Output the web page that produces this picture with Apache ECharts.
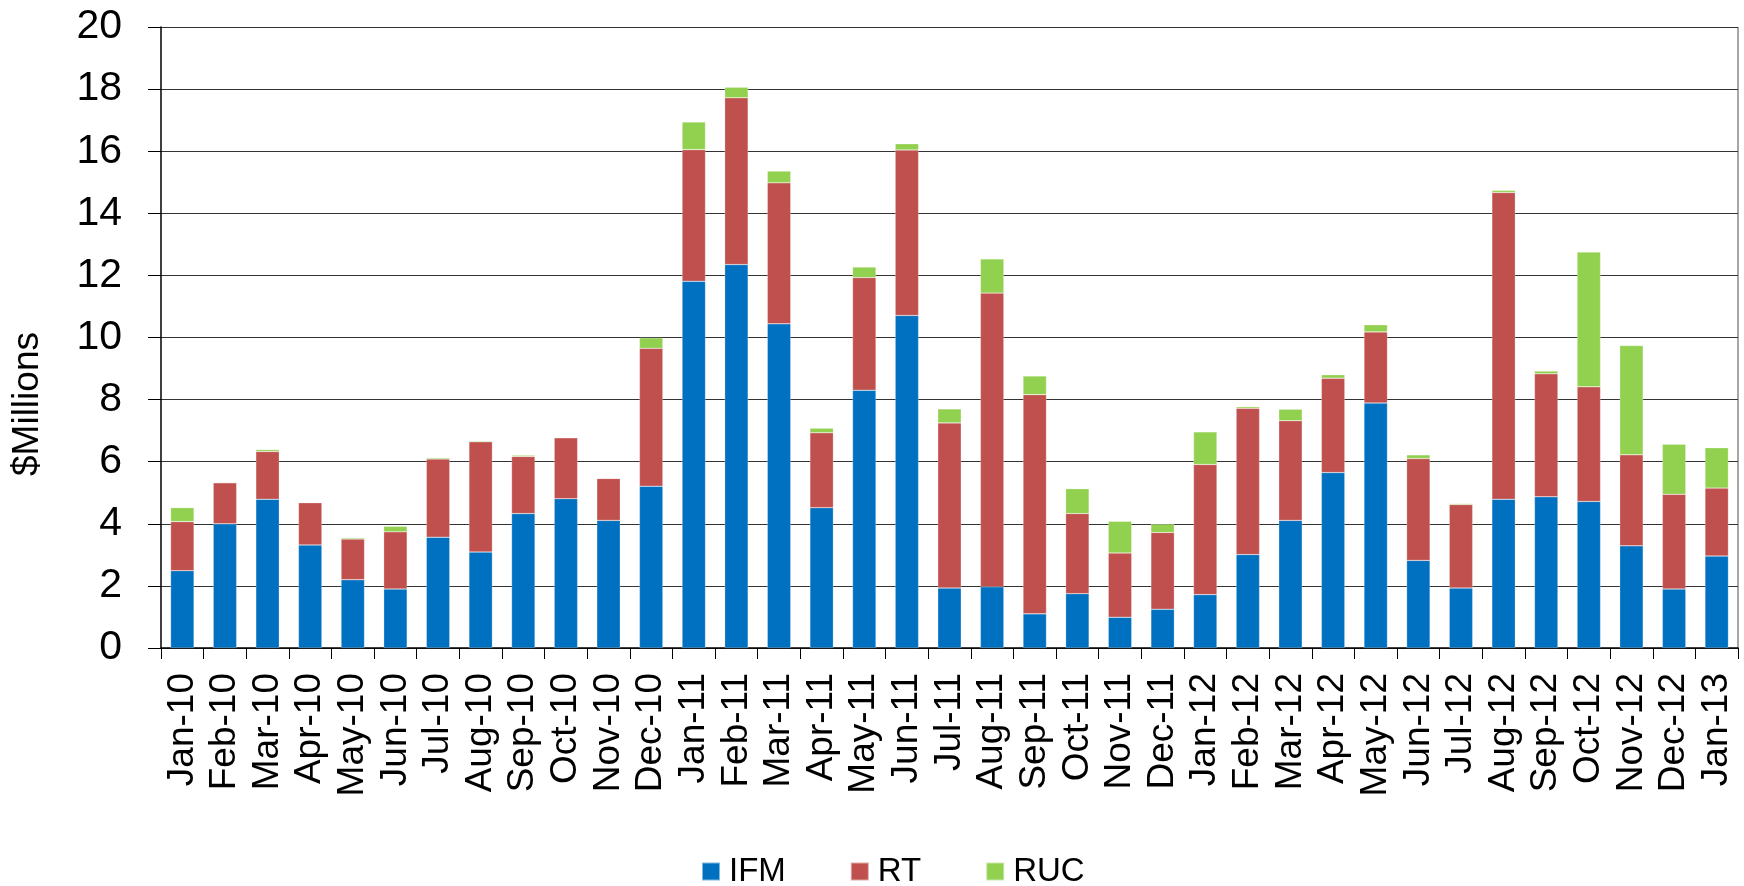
<!DOCTYPE html>
<html>
<head>
<meta charset="utf-8">
<script src="https://cdn.jsdelivr.net/npm/echarts@6/dist/echarts.min.js"></script>
<style>
  html, body { margin: 0; padding: 0; background: #fff; }
  #chart { width: 1744px; height: 886px; }
</style>
</head>
<body>
<div id="chart"></div>
<script>
const months = ['Jan-10','Feb-10','Mar-10','Apr-10','May-10','Jun-10','Jul-10','Aug-10','Sep-10','Oct-10','Nov-10','Dec-10',
  'Jan-11','Feb-11','Mar-11','Apr-11','May-11','Jun-11','Jul-11','Aug-11','Sep-11','Oct-11','Nov-11','Dec-11',
  'Jan-12','Feb-12','Mar-12','Apr-12','May-12','Jun-12','Jul-12','Aug-12','Sep-12','Oct-12','Nov-12','Dec-12',
  'Jan-13'];

// $Millions, stacked segments
const ifm = [2.49, 4.00, 4.79, 3.32, 2.20, 1.90, 3.57, 3.09, 4.33, 4.81, 4.11, 5.21,
  11.81, 12.35, 10.44, 4.52, 8.30, 10.71, 1.93, 1.97, 1.10, 1.75, 0.99, 1.25,
  1.72, 3.01, 4.11, 5.65, 7.89, 2.82, 1.93, 4.79, 4.87, 4.72, 3.29, 1.90,
  2.96];
const rt = [1.58, 1.32, 1.54, 1.36, 1.31, 1.84, 2.52, 3.55, 1.84, 1.96, 1.35, 4.44,
  4.24, 5.37, 4.54, 2.41, 3.63, 5.33, 5.32, 9.46, 7.06, 2.58, 2.07, 2.47,
  4.19, 4.71, 3.21, 3.04, 2.29, 3.28, 2.69, 9.88, 3.96, 3.69, 2.93, 3.05,
  2.19];
const ruc = [0.45, 0.02, 0.06, 0.01, 0.04, 0.18, 0.04, 0.03, 0.04, 0.01, 0.01, 0.34,
  0.89, 0.34, 0.38, 0.15, 0.34, 0.20, 0.45, 1.10, 0.60, 0.80, 1.02, 0.27,
  1.05, 0.05, 0.37, 0.11, 0.23, 0.12, 0.03, 0.07, 0.09, 4.34, 3.52, 1.61,
  1.30];

const chart = echarts.init(document.getElementById('chart'));
const font = 'Liberation Sans, Arial, sans-serif';

function bar(name, data, color) {
  return {
    name: name,
    type: 'bar',
    stack: 'total',
    barWidth: '55%',
    data: data,
    itemStyle: { color: color, borderColor: 'rgba(255,255,255,0.5)', borderWidth: 0.5 },
    emphasis: { disabled: true }
  };
}

chart.setOption({
  animation: false,
  textStyle: { fontFamily: font },
  grid: { left: 161, right: 6, top: 27, bottom: 238 },
  legend: {
    left: 696,
    top: 850,
    itemWidth: 18,
    itemHeight: 18,
    itemGap: 64,
    icon: 'rect',
    textStyle: { fontSize: 33, color: '#000', fontFamily: font, padding: [0, 0, 0, 4] },
    data: ['IFM', 'RT', 'RUC']
  },
  xAxis: {
    type: 'category',
    data: months,
    axisLine: { lineStyle: { color: '#000', width: 1.5 } },
    axisTick: { show: true, length: 11, alignWithLabel: false, lineStyle: { color: '#000' } },
    axisLabel: { rotate: 90, fontSize: 37, color: '#000', margin: 25, interval: 0, fontFamily: font }
  },
  yAxis: {
    type: 'value',
    min: 0,
    max: 20,
    interval: 2,
    axisLine: { show: true, lineStyle: { color: '#000', width: 1.5 } },
    axisTick: { show: true, length: 13, inside: false, lineStyle: { color: '#000' } },
    axisLabel: { fontSize: 41, color: '#000', margin: 39, fontFamily: font },
    splitLine: { show: true, lineStyle: { color: '#333', width: 1.2 } }
  },
  series: [
    bar('IFM', ifm, '#0070C0'),
    bar('RT', rt, '#C0504D'),
    bar('RUC', ruc, '#92D050')
  ],
  graphic: [{
    type: 'line',
    shape: { x1: 1738, y1: 27, x2: 1738, y2: 648 },
    style: { stroke: '#888', lineWidth: 1.5 }
  }, {
    type: 'text',
    x: 28,
    y: 404,
    rotation: Math.PI / 2,
    style: {
      text: '$Millions',
      font: '37px ' + font,
      fill: '#000',
      align: 'center',
      verticalAlign: 'middle'
    }
  }]
});
</script>
</body>
</html>
